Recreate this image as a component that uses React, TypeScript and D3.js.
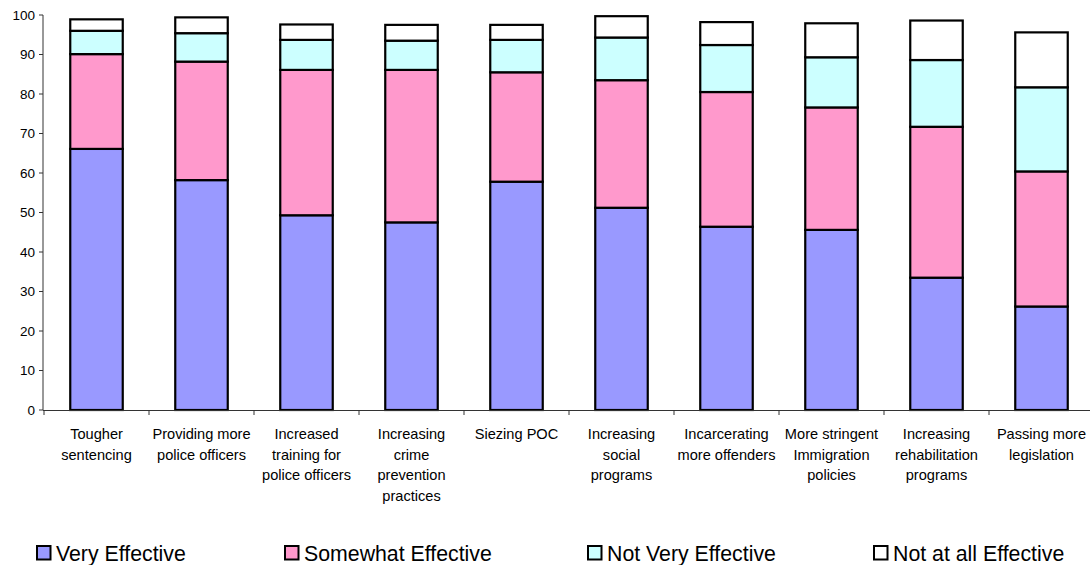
import React, { useRef, useEffect } from 'react';
import * as d3 from 'd3';

const categories = [
  ['Tougher', 'sentencing'],
  ['Providing more', 'police officers'],
  ['Increased', 'training for', 'police officers'],
  ['Increasing', 'crime', 'prevention', 'practices'],
  ['Siezing POC'],
  ['Increasing', 'social', 'programs'],
  ['Incarcerating', 'more offenders'],
  ['More stringent', 'Immigration', 'policies'],
  ['Increasing', 'rehabilitation', 'programs'],
  ['Passing more', 'legislation'],
];

const seriesNames = ['Very Effective', 'Somewhat Effective', 'Not Very Effective', 'Not at all Effective'];
const seriesColors = ['#9999ff', '#ff99cc', '#ccffff', '#ffffff'];

const veryEffective = [66.1, 58.2, 49.3, 47.5, 57.8, 51.2, 46.4, 45.6, 33.5, 26.2];
const somewhatEffective = [24.0, 30.0, 36.8, 38.6, 27.7, 32.3, 34.1, 31.0, 38.2, 34.2];
const notVeryEffective = [5.9, 7.2, 7.6, 7.4, 8.2, 10.8, 11.9, 12.7, 16.9, 21.3];
const notAtAllEffective = [2.9, 4.0, 3.9, 4.0, 3.8, 5.4, 5.8, 8.6, 10.0, 13.9];

const yTicks = [0, 10, 20, 30, 40, 50, 60, 70, 80, 90, 100];

const FONT = '"Liberation Sans", Arial, sans-serif';

const App: React.FC = () => {
  const svgRef = useRef<SVGSVGElement>(null);
  const width = 1090;
  const height = 565;

  useEffect(() => {
    if (!svgRef.current) return;
    const svg = d3.select(svgRef.current);
    svg.selectAll('*').remove();

    const plotLeft = 44;
    const plotRight = 1094;
    const plotTop = 15;
    const plotBottom = 410;

    const keys = categories.map((_, i) => i);
    const x = d3.scaleBand<number>().domain(keys).range([plotLeft, plotRight]).paddingInner(0).paddingOuter(0);
    const y = d3.scaleLinear().domain([0, 100]).range([plotBottom, plotTop]);

    const rows = keys.map((i) => ({
      s0: veryEffective[i],
      s1: somewhatEffective[i],
      s2: notVeryEffective[i],
      s3: notAtAllEffective[i],
    }));
    const stacked = d3.stack<any>().keys(['s0', 's1', 's2', 's3'])(rows);

    const barW = x.bandwidth() * 0.5;

    // bars
    stacked.forEach((layer, si) => {
      svg
        .append('g')
        .selectAll('rect')
        .data(layer)
        .join('rect')
        .attr('x', (_, i) => (x(i) as number) + (x.bandwidth() - barW) / 2)
        .attr('y', (d) => y(d[1]))
        .attr('width', barW)
        .attr('height', (d) => y(d[0]) - y(d[1]))
        .attr('fill', seriesColors[si])
        .attr('stroke', '#000')
        .attr('stroke-width', 2.2);
    });

    // y axis
    const yAxis = svg.append('g');
    yAxis
      .append('line')
      .attr('x1', plotLeft - 1)
      .attr('x2', plotLeft - 1)
      .attr('y1', y(100))
      .attr('y2', y(0))
      .attr('stroke', '#333')
      .attr('stroke-width', 1);
    yTicks.forEach((t) => {
      yAxis
        .append('line')
        .attr('x1', plotLeft - 5)
        .attr('x2', plotLeft - 1)
        .attr('y1', y(t))
        .attr('y2', y(t))
        .attr('stroke', '#333');
      yAxis
        .append('text')
        .attr('x', plotLeft - 9)
        .attr('y', y(t))
        .attr('dy', '0.35em')
        .attr('text-anchor', 'end')
        .attr('font-family', FONT)
        .attr('font-size', '13.5px')
        .attr('fill', '#000')
        .text(t);
    });

    // x axis
    const xAxis = svg.append('g');
    xAxis
      .append('line')
      .attr('x1', plotLeft - 1)
      .attr('x2', plotRight)
      .attr('y1', plotBottom + 0.5)
      .attr('y2', plotBottom + 0.5)
      .attr('stroke', '#333');
    [...keys, keys.length].forEach((i) => {
      const tx = plotLeft + i * x.step();
      xAxis
        .append('line')
        .attr('x1', tx)
        .attr('x2', tx)
        .attr('y1', plotBottom)
        .attr('y2', plotBottom + 5)
        .attr('stroke', '#333');
    });
    categories.forEach((lines, i) => {
      const t = xAxis
        .append('text')
        .attr('text-anchor', 'middle')
        .attr('font-family', FONT)
        .attr('font-size', '14.6px')
        .attr('fill', '#000');
      lines.forEach((ln, li) => {
        t.append('tspan')
          .attr('x', (x(i) as number) + x.bandwidth() / 2)
          .attr('y', 439 + li * 20.7)
          .text(ln);
      });
    });

    // legend
    const legendX = [36, 284, 587, 873];
    const legend = svg.append('g');
    seriesNames.forEach((name, i) => {
      legend
        .append('rect')
        .attr('x', legendX[i] + 1)
        .attr('y', 546)
        .attr('width', 13.5)
        .attr('height', 13.5)
        .attr('fill', seriesColors[i])
        .attr('stroke', '#000')
        .attr('stroke-width', 2);
      legend
        .append('text')
        .attr('x', legendX[i] + 20)
        .attr('y', 560.5)
        .attr('font-family', FONT)
        .attr('font-size', '21.3px')
        .attr('fill', '#000')
        .text(name);
    });
  }, []);

  return (
    <svg
      ref={svgRef}
      width={width}
      height={height}
      style={{ position: 'absolute', left: 0, top: 0, background: '#fff' }}
    />
  );
};

export default App;
